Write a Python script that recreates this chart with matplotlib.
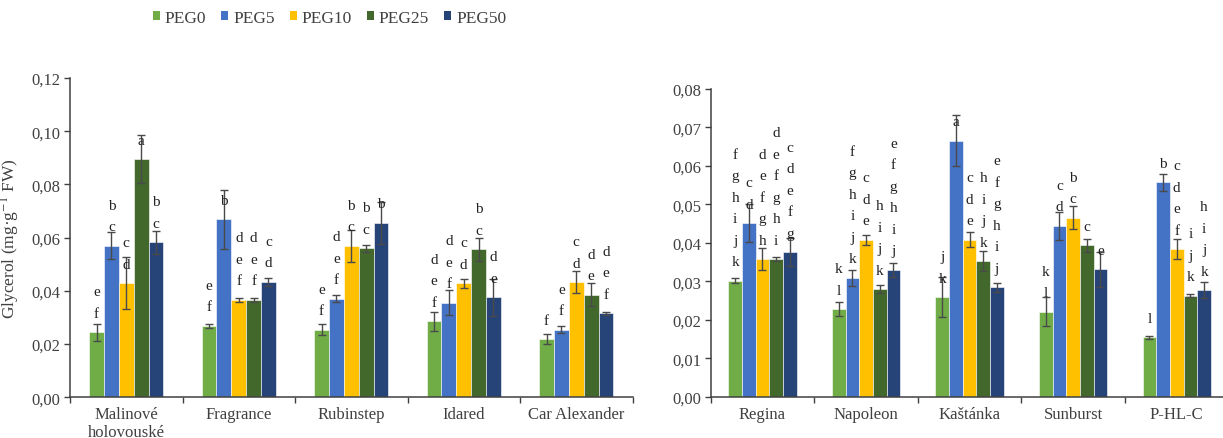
import matplotlib
matplotlib.use('Agg')
import matplotlib.pyplot as plt
import numpy as np
from matplotlib.patches import Patch

plt.rcParams['font.family'] = ['Liberation Serif', 'DejaVu Serif']
plt.rcParams['mathtext.fontset'] = 'stix'

series = ['PEG0', 'PEG5', 'PEG10', 'PEG25', 'PEG50']
colors = ['#70AD47', '#4472C4', '#FFC000', '#43682B', '#264478']

# ---------------- left panel data ----------------
left_cats = ['Malinové\nholovouské', 'Fragrance', 'Rubinstep', 'Idared', 'Car Alexander']
left_peg0 = [0.0244, 0.0269, 0.0254, 0.0285, 0.0219]
left_peg5 = [0.0570, 0.0669, 0.0371, 0.0355, 0.0254]
left_peg10 = [0.0429, 0.0366, 0.0570, 0.0428, 0.0433]
left_peg25 = [0.0894, 0.0366, 0.0560, 0.0556, 0.0386]
left_peg50 = [0.0583, 0.0434, 0.0656, 0.0376, 0.0315]
left_err0 = [0.0033, 0.0008, 0.0020, 0.0036, 0.0019]
left_err5 = [0.0050, 0.0110, 0.0013, 0.0047, 0.0013]
left_err10 = [0.0097, 0.0007, 0.0060, 0.0016, 0.0040]
left_err25 = [0.0090, 0.0007, 0.0014, 0.0043, 0.0044]
left_err50 = [0.0043, 0.0016, 0.0078, 0.0070, 0.0004]
left_let0 = ['ef', 'ef', 'ef', 'def', 'f']
left_let5 = ['bc', 'b', 'def', 'def', 'ef']
left_let10 = ['cd', 'def', 'bc', 'cd', 'cd']
left_let25 = ['a', 'def', 'bc', 'bc', 'de']
left_let50 = ['bc', 'cd', 'b', 'de', 'def']

# ---------------- right panel data ----------------
right_cats = ['Regina', 'Napoleon', 'Kaštánka', 'Sunburst', 'P-HL-C']
right_peg0 = [0.0302, 0.0228, 0.0259, 0.0221, 0.0154]
right_peg5 = [0.0451, 0.0309, 0.0666, 0.0444, 0.0557]
right_peg10 = [0.0358, 0.0408, 0.0408, 0.0465, 0.0384]
right_peg25 = [0.0358, 0.0280, 0.0352, 0.0394, 0.0263]
right_peg50 = [0.0376, 0.0330, 0.0284, 0.0331, 0.0277]
right_err0 = [0.0007, 0.0019, 0.0053, 0.0037, 0.0004]
right_err5 = [0.0049, 0.0020, 0.0066, 0.0037, 0.0023]
right_err10 = [0.0028, 0.0013, 0.0020, 0.0030, 0.0025]
right_err25 = [0.0005, 0.0011, 0.0026, 0.0017, 0.0004]
right_err50 = [0.0036, 0.0018, 0.0012, 0.0046, 0.0021]
right_let0 = ['fghijk', 'kl', 'jk', 'kl', 'l']
right_let5 = ['cd', 'fghijk', 'a', 'cd', 'b']
right_let10 = ['defgh', 'cde', 'cde', 'bc', 'cdef']
right_let25 = ['defghi', 'hijk', 'hijk', 'c', 'ijk']
right_let50 = ['cdefg', 'efghij', 'efghij', 'e', 'hijk']

text_color = '#404040'
axis_color = '#404040'
W, H = 1223, 439
fig = plt.figure(figsize=(W / 100, H / 100), dpi=100)

PX = 72 / 100  # points per pixel


def draw_panel(ax, cats, vals, errs, lets, ymax, ystep):
    n = len(cats)
    x = np.arange(n)
    bw = 0.132
    for i in range(5):
        xi = x + (i - 2) * bw
        ax.bar(xi, vals[i], width=bw, color=colors[i], edgecolor='white',
               linewidth=0.4, zorder=2)
        ax.errorbar(xi, vals[i], yerr=errs[i], fmt='none', ecolor='#4a4a4a',
                    elinewidth=1.0, capsize=2.8, capthick=1.0, zorder=3)
        for j in range(n):
            letters = lets[i][j]
            for k, ch in enumerate(reversed(letters)):
                ax.annotate(ch, (xi[j], vals[i][j]),
                            xytext=(0, (19 + 21.5 * k) * PX),
                            textcoords='offset points', ha='center', va='center',
                            fontsize=11, color='#222222', zorder=4)
    ax.set_xlim(-0.5, n - 0.5)
    ax.set_ylim(0, ymax)
    yt = np.arange(0, ymax + 1e-9, ystep)
    ax.set_yticks(yt)
    ax.set_yticklabels([f'{v:.2f}'.replace('.', ',') for v in yt],
                       fontsize=12, color=text_color)
    ax.set_xticks(np.arange(-0.5, n, 1.0))
    ax.set_xticklabels([])
    ax.set_xticks(x, minor=True)
    ax.set_xticklabels(cats, minor=True, fontsize=12, color=text_color,
                       linespacing=1.1)
    ax.tick_params(axis='x', which='minor', length=0, pad=6.5)
    ax.tick_params(axis='x', which='major', length=4, width=1, color=axis_color,
                   direction='out')
    ax.tick_params(axis='y', length=4, width=1, color=axis_color, direction='out', pad=3)
    for s in ['top', 'right']:
        ax.spines[s].set_visible(False)
    for s in ['left', 'bottom']:
        ax.spines[s].set_color(axis_color)
        ax.spines[s].set_linewidth(1.1)


# left axes: x 70..632.5 px, y 79..398.3 px
axL = fig.add_axes([70 / W, (H - 398.3) / H, 562.5 / W, 319.3 / H])
draw_panel(axL,
           left_cats,
           [left_peg0, left_peg5, left_peg10, left_peg25, left_peg50],
           [left_err0, left_err5, left_err10, left_err25, left_err50],
           [left_let0, left_let5, left_let10, left_let25, left_let50],
           0.12, 0.02)
axL.set_ylabel('Glycerol (mg·g$^{-1}$ FW)', fontsize=12.5, color=text_color)
axL.yaxis.set_label_coords((22 - 70) / 562.5, 0.5)

# right axes: x 710.7..1228.5 px, y 90..397.7 px
axR = fig.add_axes([710.7 / W, (H - 397.7) / H, 517.8 / W, 307.7 / H])
draw_panel(axR,
           right_cats,
           [right_peg0, right_peg5, right_peg10, right_peg25, right_peg50],
           [right_err0, right_err5, right_err10, right_err25, right_err50],
           [right_let0, right_let5, right_let10, right_let25, right_let50],
           0.08, 0.01)

handles = [Patch(facecolor=c, edgecolor='none') for c in colors]
fig.legend(handles, series, loc='center', bbox_to_anchor=(329.5 / W, 1 - 19 / H),
           ncol=5, frameon=False, fontsize=12.5, handlelength=0.4, handleheight=0.4,
           handletextpad=0.3, columnspacing=0.85, labelcolor=text_color)

fig.savefig('out.png', dpi=100)
